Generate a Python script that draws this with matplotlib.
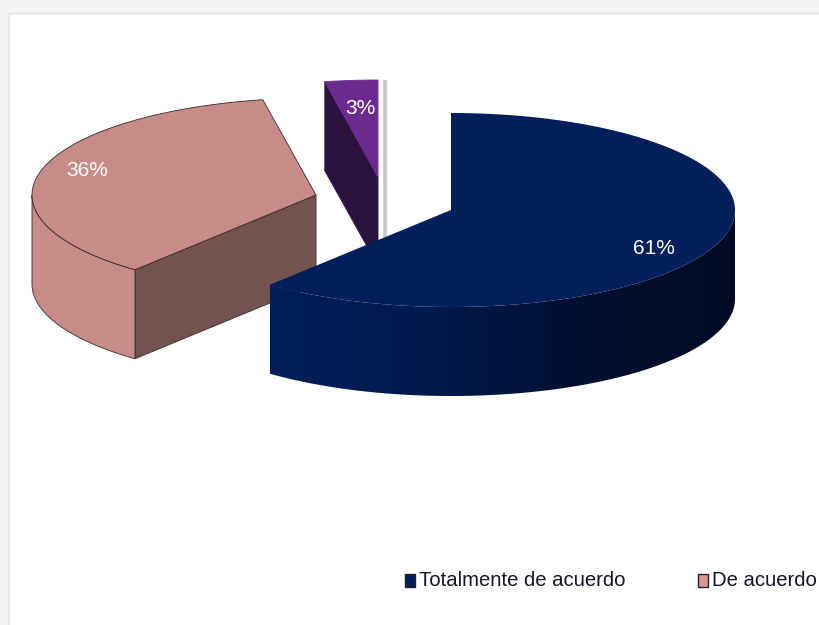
import numpy as np
import matplotlib
matplotlib.use('Agg')
import matplotlib.pyplot as plt
from matplotlib.colors import LinearSegmentedColormap
from matplotlib.patches import Polygon, Rectangle

# Data
categories = ['Totalmente de acuerdo', 'De acuerdo']
percent_values = [61, 36, 3, 0]  # last one is the empty slice, only its edge shows
percent_labels = ['61%', '36%', '3%']
top_colors = ['#001f5b', '#c78b88', '#6b2c91', '#c8c8c8']
cut_colors = [None, '#745250', '#2c133f', '#c8c8c8']
legend_colors = ['#001f5b', '#d99694']

plt.rcParams['font.family'] = ['Liberation Sans', 'DejaVu Sans']

# pie geometry, in pixels of the picture
rx, ry, depth = 284, 97, 89
centers = [(451, 210), (316, 195), (378, 177), (385, 177)]
label_pos = [(654, 249), (87, 170), (360, 108)]


def arc(cx, cy, a0, a1, n=120):
    t = np.radians(np.linspace(a0, a1, n))
    return np.column_stack([cx + rx * np.cos(t), cy - ry * np.sin(t)])


fig = plt.figure(figsize=(8.2, 6.25), dpi=100)
ax = fig.add_axes([0, 0, 1, 1])

# greyish border of the screenshot
ax.add_patch(Rectangle((0, 0), 820, 13, color='#f5f5f5', lw=0))
ax.add_patch(Rectangle((0, 0), 8, 625, color='#f4f4f4', lw=0))
ax.add_patch(Rectangle((8, 12), 812, 3, color='#e9e9e9', lw=0))
ax.add_patch(Rectangle((8, 12), 2, 613, color='#e9e9e9', lw=0))

# slices go clockwise from 12 o'clock
stops = 90 - np.cumsum([0] + percent_values) * 3.6
edge = '#3a2a2a'

# empty slice first, then purple, pink, navy on top
for i in [3, 2, 1, 0]:
    cx, cy = centers[i]
    a0, a1 = stops[i], stops[i + 1]
    start = arc(cx, cy, a0, a0, 1)[0]
    z = 10 - i * 3

    # visible cut face
    if i in (1, 2):
        line = edge if i == 1 else cut_colors[i]
        ax.add_patch(Polygon([(cx, cy), start, start + (0, depth), (cx, cy + depth)],
                             fc=cut_colors[i], ec=line, lw=0.6, zorder=z))
    if i == 3:
        ax.plot([cx, cx], [cy - ry, cy + depth], color=cut_colors[i], lw=2.6,
                solid_capstyle='butt', zorder=z)
        continue

    # outer wall, only the front half of the ellipse
    if i == 0:
        top = arc(cx, cy, 0, a1)
        wall = np.vstack([top, top[::-1] + (0, depth)])
        wall_patch = Polygon(wall, fc='none', ec='none', zorder=z)
        ax.add_patch(wall_patch)
        shade = LinearSegmentedColormap.from_list(
            'navy_wall', ['#001f5b', '#001a4e', '#000f30', '#000a22'])
        im = ax.imshow(np.linspace(0, 1, 256)[None, :], cmap=shade, aspect='auto',
                       extent=[cx + rx * np.cos(np.radians(a1)), cx + rx, 625, 0], zorder=z)
        im.set_clip_path(wall_patch)
    if i == 1:
        top = arc(cx, cy, a0, -180)
        wall = np.vstack([top, top[::-1] + (0, depth)])
        ax.add_patch(Polygon(wall, fc=top_colors[i], ec=edge, lw=0.6, zorder=z))

    # top face
    face = np.vstack([[(cx, cy)], arc(cx, cy, a0, a1)])
    line = 'none' if i == 0 else edge if i == 1 else top_colors[i]
    ax.add_patch(Polygon(face, fc=top_colors[i], ec=line, lw=0.6, zorder=z + 1))

# percent labels
for (x, y), lab in zip(label_pos, percent_labels):
    ax.text(x, y, lab, color='white', fontsize=15, ha='center', va='center', zorder=20)

# legend
legend_x = [405, 698]
for x, name, col in zip(legend_x, categories, legend_colors):
    ax.add_patch(Rectangle((x, 574), 10, 13, fc=col, ec='#222222', lw=1, zorder=20))
    ax.text(x + 14, 580, name, color='#14142a', fontsize=14.6, ha='left', va='center', zorder=20)

ax.set_xlim(0, 820)
ax.set_ylim(625, 0)
ax.axis('off')

fig.savefig('out.png', dpi=100)
